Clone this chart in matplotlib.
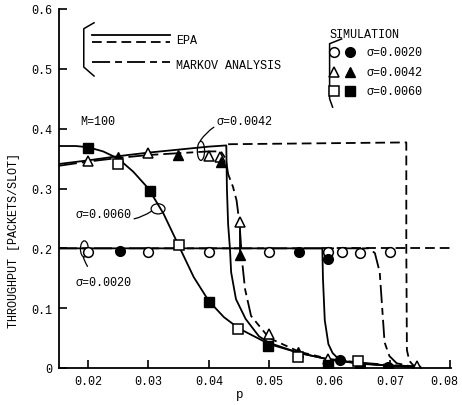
import numpy as np
import matplotlib
matplotlib.use('Agg')
import matplotlib.pyplot as plt
import matplotlib.transforms as mtransforms
from matplotlib.patches import Ellipse

plt.rcParams['font.family'] = ['Liberation Mono', 'DejaVu Sans Mono']
plt.rcParams['lines.scale_dashes'] = False

# EPA, sigma=0.0020 (solid branch) and its dashed continuation
p_epa20 = [0.0152, 0.0588, 0.0589, 0.0592, 0.0598, 0.0605, 0.0615, 0.063, 0.065, 0.070, 0.075]
t_epa20 = [0.200, 0.200, 0.150, 0.080, 0.040, 0.025, 0.015, 0.010, 0.007, 0.004, 0.002]
p_epa20_d = [0.0588, 0.0802]
t_epa20_d = [0.200, 0.200]

# EPA, sigma=0.0042
p_epa42 = [0.0152, 0.020, 0.025, 0.030, 0.035, 0.040, 0.0429, 0.0430, 0.0432, 0.0435,
           0.0437, 0.0445, 0.0461, 0.0483, 0.050, 0.055, 0.060, 0.065, 0.070, 0.075]
t_epa42 = [0.341, 0.347, 0.354, 0.360, 0.365, 0.370, 0.372, 0.30, 0.24, 0.20,
           0.16, 0.115, 0.082, 0.053, 0.042, 0.025, 0.014, 0.008, 0.004, 0.002]
p_epa42_d = [0.0432, 0.0727, 0.0727, 0.0728, 0.0732, 0.0738, 0.0748]
t_epa42_d = [0.374, 0.377, 0.200, 0.030, 0.012, 0.005, 0.0015]

# EPA, sigma=0.0060
p_epa60 = [0.0152, 0.018, 0.020, 0.0225, 0.025, 0.0275, 0.030, 0.0325, 0.035, 0.0375,
           0.040, 0.0425, 0.045, 0.050, 0.055, 0.060, 0.065, 0.070, 0.075]
t_epa60 = [0.371, 0.371, 0.369, 0.362, 0.350, 0.328, 0.300, 0.258, 0.205, 0.152,
           0.112, 0.085, 0.066, 0.040, 0.025, 0.014, 0.008, 0.004, 0.001]

# Markov analysis
p_mk20 = [0.0152, 0.0665, 0.0675, 0.0683, 0.0688, 0.0691, 0.0699, 0.0711, 0.0738]
t_mk20 = [0.200, 0.200, 0.192, 0.160, 0.087, 0.043, 0.020, 0.008, 0.002]
p_mk42 = [0.0152, 0.020, 0.025, 0.030, 0.035, 0.040, 0.0420, 0.0428, 0.0432, 0.0440,
          0.0446, 0.0451, 0.0455, 0.0460, 0.0470, 0.050, 0.055, 0.060, 0.065, 0.070, 0.075]
t_mk42 = [0.338, 0.345, 0.351, 0.356, 0.359, 0.362, 0.362, 0.350, 0.324, 0.303,
          0.280, 0.240, 0.180, 0.132, 0.087, 0.050, 0.027, 0.015, 0.009, 0.005, 0.002]

# simulation points
p_c_open = [0.020, 0.030, 0.040, 0.050, 0.0598, 0.062, 0.065, 0.070]
t_c_open = [0.194, 0.194, 0.194, 0.194, 0.194, 0.194, 0.193, 0.194]
p_c_fill = [0.0253, 0.055, 0.0598, 0.0617, 0.065, 0.0696]
t_c_fill = [0.196, 0.194, 0.183, 0.013, 0.003, 0.002]
p_t_open = [0.020, 0.030, 0.040, 0.0419, 0.0451, 0.050, 0.0597, 0.0745]
t_t_open = [0.346, 0.360, 0.355, 0.352, 0.244, 0.057, 0.015, 0.003]
p_t_fill = [0.025, 0.0349, 0.0421, 0.0451, 0.0547]
t_t_fill = [0.352, 0.356, 0.344, 0.189, 0.027]
p_s_open = [0.025, 0.035, 0.0448, 0.0547, 0.0647]
t_s_open = [0.341, 0.206, 0.065, 0.018, 0.012]
p_s_fill = [0.020, 0.0302, 0.040, 0.0498, 0.0597]
t_s_fill = [0.368, 0.296, 0.110, 0.037, 0.005]

x_ticks = [0.02, 0.03, 0.04, 0.05, 0.06, 0.07, 0.08]
x_ticklabels = ['0.02', '0.03', '0.04', '0.05', '0.06', '0.07', '0.08']
y_ticks = [0, 0.1, 0.2, 0.3, 0.4, 0.5, 0.6]
y_ticklabels = ['0', '0.1', '0.2', '0.3', '0.4', '0.5', '0.6']

epa_dash = (0, (7, 3.6))
mk_dash = (0, (13, 3.6, 5, 3.6))
lw = 1.3

fig = plt.figure(figsize=(4.62, 4.06), dpi=100)
ax = fig.add_axes([59 / 462, 1 - 369 / 406, 392 / 462, 359 / 406])

ax.plot(p_epa20, t_epa20, color='k', lw=lw)
ax.plot(p_epa20_d, t_epa20_d, color='k', lw=lw, linestyle=epa_dash)
ax.plot(p_epa42, t_epa42, color='k', lw=lw)
ax.plot(p_epa42_d, t_epa42_d, color='k', lw=lw, linestyle=epa_dash)
ax.plot(p_epa60, t_epa60, color='k', lw=lw)
ax.plot(p_mk20, t_mk20, color='k', lw=lw, linestyle=mk_dash)
ax.plot(p_mk42, t_mk42, color='k', lw=lw, linestyle=mk_dash)
# short bar joining the two sigma=0.0042 points at p=0.045
ax.plot([p_t_open[4], p_t_fill[3]], [t_t_open[4], t_t_fill[3]], color='k', lw=lw)

ms = 7
ax.plot(p_c_open, t_c_open, 'o', ms=ms, mfc='white', mec='k', mew=1.1)
ax.plot(p_c_fill, t_c_fill, 'o', ms=ms, mfc='k', mec='k')
ax.plot(p_t_open, t_t_open, '^', ms=ms, mfc='white', mec='k', mew=1.1)
ax.plot(p_t_fill, t_t_fill, '^', ms=ms, mfc='k', mec='k')
ax.plot(p_s_open, t_s_open, 's', ms=ms, mfc='white', mec='k', mew=1.1)
ax.plot(p_s_fill, t_s_fill, 's', ms=ms, mfc='k', mec='k')

ax.set_xlim(0.0152, 0.0801)
ax.set_ylim(0, 0.6)
ax.set_xticks(x_ticks)
ax.set_xticklabels(x_ticklabels)
ax.set_yticks(y_ticks)
ax.set_yticklabels(y_ticklabels)
ax.tick_params(direction='in', length=5.5, width=1.2, labelsize=8.5, pad=5)
for s in ['top', 'right']:
    ax.spines[s].set_visible(False)
for s in ['left', 'bottom']:
    ax.spines[s].set_linewidth(1.3)

# keep the last x label inside the figure
last = ax.get_xticklabels()[-1]
last.set_transform(last.get_transform() + mtransforms.ScaledTranslation(-6 / 100, 0, fig.dpi_scale_trans))

ax.set_xlabel('p', fontsize=9)
ax.xaxis.set_label_coords(0.462, -0.055)
ax.set_ylabel('THROUGHPUT [PACKETS/SLOT]', fontsize=8.5)
ax.yaxis.set_label_coords(-0.1, 0.357)

# curve labels
ax.text(0.0187, 0.413, 'M=100', fontsize=8.5, va='center')
ax.annotate('\u03c3=0.0042', xy=(0.0386, 0.380), xytext=(0.0413, 0.413),
            fontsize=8.5, va='center',
            arrowprops=dict(arrowstyle='-', lw=0.9, connectionstyle='arc3,rad=0.3',
                            shrinkA=0, shrinkB=0))
ax.add_patch(Ellipse((0.0387, 0.363), 0.0012, 0.032, fill=False, lw=0.9))
ax.annotate('\u03c3=0.0060', xy=(0.0305, 0.262), xytext=(0.0179, 0.258),
            fontsize=8.5, va='center',
            arrowprops=dict(arrowstyle='-', lw=0.9, connectionstyle='arc3,rad=0.3',
                            shrinkA=0, shrinkB=0))
ax.add_patch(Ellipse((0.0316, 0.266), 0.0023, 0.017, fill=False, lw=0.9))
ax.annotate('\u03c3=0.0020', xy=(0.0192, 0.186), xytext=(0.0180, 0.144),
            fontsize=8.5, va='center',
            arrowprops=dict(arrowstyle='-', lw=0.9, connectionstyle='arc3,rad=-0.2',
                            shrinkA=6, shrinkB=0))
ax.add_patch(Ellipse((0.0194, 0.199), 0.0013, 0.027, angle=0, fill=False, lw=0.9))

# line legend (top left)
ax.plot([0.0193 + 0.0017, 0.0193, 0.0193, 0.0193 + 0.0017],
        [0.577, 0.567, 0.503, 0.488], color='k', lw=1.1)
ax.plot([0.0207, 0.0336], [0.557, 0.557], color='k', lw=lw)
ax.plot([0.0207, 0.0336], [0.545, 0.545], color='k', lw=lw, linestyle=epa_dash)
ax.plot([0.0207, 0.0336], [0.512, 0.512], color='k', lw=lw, linestyle=mk_dash)
ax.text(0.03455, 0.548, 'EPA', fontsize=8.5, va='center')
ax.text(0.03455, 0.507, 'MARKOV ANALYSIS', fontsize=8.5, va='center')

# simulation legend (top right)
ax.text(0.0600, 0.5585, 'SIMULATION', fontsize=8.5, va='center')
ax.plot([0.0620, 0.0600, 0.0600, 0.0605], [0.550, 0.542, 0.450, 0.436], color='k', lw=1.1)
leg_y = [0.528, 0.495, 0.463]
leg_lab = ['\u03c3=0.0020', '\u03c3=0.0042', '\u03c3=0.0060']
for y, m, lab in zip(leg_y, ['o', '^', 's'], leg_lab):
    ax.plot([0.0608], [y], m, ms=ms, mfc='white', mec='k', mew=1.1)
    ax.plot([0.0633], [y], m, ms=ms, mfc='k', mec='k')
    ax.text(0.0661, y, lab, fontsize=8.5, va='center')

fig.savefig('out.png', dpi=100)
